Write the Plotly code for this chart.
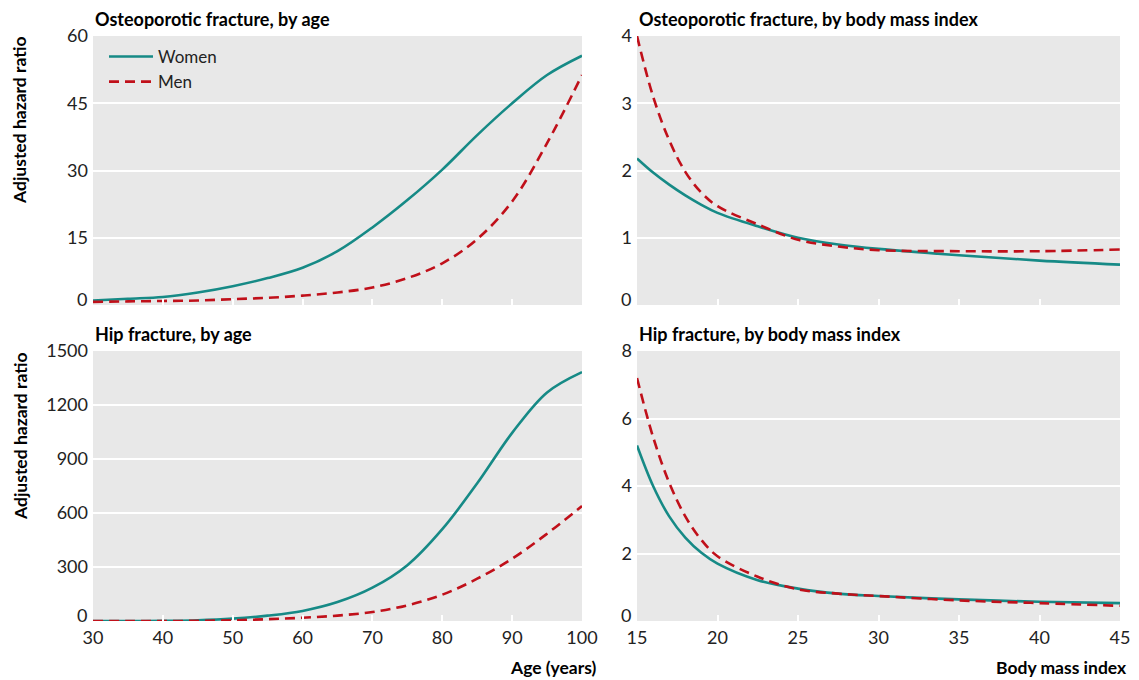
import plotly.graph_objects as go

# ---- data ----
age = [30, 35, 40, 45, 50, 55, 60, 65, 70, 75, 80, 85, 90, 95, 100]
osteo_age_women = [1.0, 1.4, 1.8, 2.8, 4.2, 6.0, 8.3, 12.0, 17.3, 23.4, 30.2, 37.9, 45.0, 51.3, 55.6]
osteo_age_men = [0.7, 0.8, 0.9, 1.0, 1.3, 1.6, 2.1, 2.8, 3.9, 6.0, 9.3, 14.7, 23.1, 36.1, 51.3]
hip_age_women = [0, 0, 1, 4, 13, 30, 56, 105, 185, 310, 510, 765, 1045, 1270, 1383]
hip_age_men = [0, 0, 0, 1, 4, 10, 18, 30, 50, 87, 146, 235, 346, 485, 639]

bmi = [15, 16, 17, 18, 19, 20, 22.5, 25, 27.5, 30, 35, 40, 45]
osteo_bmi_women = [2.18, 1.97, 1.79, 1.63, 1.49, 1.37, 1.17, 1.0, 0.90, 0.835, 0.74, 0.66, 0.60]
osteo_bmi_men = [4.0, 3.1, 2.45, 1.98, 1.67, 1.47, 1.2, 0.97, 0.87, 0.815, 0.80, 0.80, 0.825]
hip_bmi_women = [5.2, 4.0, 3.1, 2.47, 2.02, 1.70, 1.21, 0.96, 0.81, 0.74, 0.64, 0.57, 0.53]
hip_bmi_men = [7.2, 5.45, 4.1, 3.1, 2.4, 1.92, 1.31, 0.94, 0.81, 0.74, 0.61, 0.53, 0.45]

age_ticks = [30, 40, 50, 60, 70, 80, 90, 100]
bmi_ticks = [15, 20, 25, 30, 35, 40, 45]
y_ticks = {
    "y": [15, 30, 45, 60],
    "y2": [1, 2, 3, 4],
    "y3": [300, 600, 900, 1200, 1500],
    "y4": [2, 4, 6, 8],
}
y_zero_label = "0"

panel_titles = ["Osteoporotic fracture, by age", "Osteoporotic fracture, by body mass index",
                "Hip fracture, by age", "Hip fracture, by body mass index"]
y_title = "Adjusted hazard ratio"
x_titles = ["Age (years)", "Body mass index"]
series_names = ["Women", "Men"]

# ---- style ----
OFF = 8                      # default page body margin
W, H = 1139 - OFF, 680 - OFF
TEAL = "#168a86"
RED = "#c0101a"
BG = "#e8e8e8"
FONT = "Lato"
TXT = "#222222"

def px(x):
    return (x - OFF) / W

def py(y):
    return 1 - (y - OFF) / H

fig = go.Figure()

panels = [
    ("x", "y", age, osteo_age_women, osteo_age_men),
    ("x2", "y2", bmi, osteo_bmi_women, osteo_bmi_men),
    ("x3", "y3", age, hip_age_women, hip_age_men),
    ("x4", "y4", bmi, hip_bmi_women, hip_bmi_men),
]
for i, (xa, ya, xs, w, m) in enumerate(panels):
    fig.add_trace(go.Scatter(x=xs, y=w, xaxis=xa, yaxis=ya, mode="lines", name=series_names[0],
                             line=dict(color=TEAL, width=2.6, shape="spline", smoothing=1.0),
                             showlegend=(i == 0)))
    fig.add_trace(go.Scatter(x=xs, y=m, xaxis=xa, yaxis=ya, mode="lines", name=series_names[1],
                             line=dict(color=RED, width=2.6, dash="10px,6px", shape="spline", smoothing=1.0),
                             showlegend=(i == 0)))

left_dom = [px(93), px(582)]
right_dom = [px(637), px(1120)]
top_dom = [py(305), py(36)]
bot_dom = [py(621), py(351)]

def xaxis(dom, anchor, ticks, rng, labels):
    return dict(domain=dom, anchor=anchor, range=rng, tickvals=ticks, showticklabels=labels,
                ticks="inside", tickcolor="white", ticklen=6, tickwidth=2,
                showgrid=False, zeroline=False, showline=False, automargin=False,
                ticklabelstandoff=4,
                tickfont=dict(family=FONT, size=18, color=TXT), fixedrange=True)

def yaxis(dom, anchor, ticks, rng):
    return dict(domain=dom, anchor=anchor, range=rng, tickvals=ticks,
                showgrid=True, gridcolor="white", gridwidth=2, zeroline=False, showline=False,
                ticks="", ticklabelstandoff=4, automargin=False,
                tickfont=dict(family=FONT, size=18, color=TXT), fixedrange=True)

fig.update_layout(
    width=W, height=H, margin=dict(l=0, r=0, t=0, b=0, autoexpand=False),
    paper_bgcolor="white", plot_bgcolor=BG,
    xaxis=xaxis(left_dom, "y", age_ticks, [30, 100], False),
    yaxis=yaxis(top_dom, "x", y_ticks["y"], [0, 60]),
    xaxis2=xaxis(right_dom, "y2", bmi_ticks, [15, 45], False),
    yaxis2=yaxis(top_dom, "x2", y_ticks["y2"], [0, 4]),
    xaxis3=xaxis(left_dom, "y3", age_ticks, [30, 100], True),
    yaxis3=yaxis(bot_dom, "x3", y_ticks["y3"], [0, 1500]),
    xaxis4=xaxis(right_dom, "y4", bmi_ticks, [15, 45], True),
    yaxis4=yaxis(bot_dom, "x4", y_ticks["y4"], [0, 8]),
    legend=dict(x=px(104), y=py(39), xanchor="left", yanchor="top", bgcolor="rgba(0,0,0,0)",
                font=dict(family=FONT, size=17, color=TXT), tracegroupgap=0, itemwidth=44),
    showlegend=True,
)

ann = []
# zero tick labels, raised slightly above the axis bottom as in the reference
for ya, dom in (("y", left_dom), ("y2", right_dom), ("y3", left_dom), ("y4", right_dom)):
    ann.append(dict(text=y_zero_label, x=dom[0], y=0, xref="paper", yref=ya,
                    xanchor="right", yanchor="middle", xshift=-4, yshift=6, showarrow=False,
                    font=dict(family=FONT, size=18, color=TXT)))
title_pos = [(93, 19), (637, 19), (93, 334), (637, 334)]
for t, (xx, yy) in zip(panel_titles, title_pos):
    ann.append(dict(text="<b>" + t + "</b>", x=px(xx), y=py(yy), xref="paper", yref="paper",
                    xanchor="left", yanchor="middle", showarrow=False,
                    font=dict(family=FONT, size=18, color="black")))
for yc in (120, 436):
    ann.append(dict(text="<b>" + y_title + "</b>", x=px(20), y=py(yc), xref="paper", yref="paper",
                    xanchor="center", yanchor="middle", textangle=-90, showarrow=False,
                    font=dict(family=FONT, size=17.5, color="black")))
ann.append(dict(text="<b>" + x_titles[0] + "</b>", x=px(599), y=py(667), xref="paper", yref="paper",
                xanchor="right", yanchor="middle", showarrow=False,
                font=dict(family=FONT, size=17.5, color="black")))
ann.append(dict(text="<b>" + x_titles[1] + "</b>", x=px(1129), y=py(667), xref="paper", yref="paper",
                xanchor="right", yanchor="middle", showarrow=False,
                font=dict(family=FONT, size=17.5, color="black")))
fig.update_layout(annotations=ann)

fig.write_html("out.html")
